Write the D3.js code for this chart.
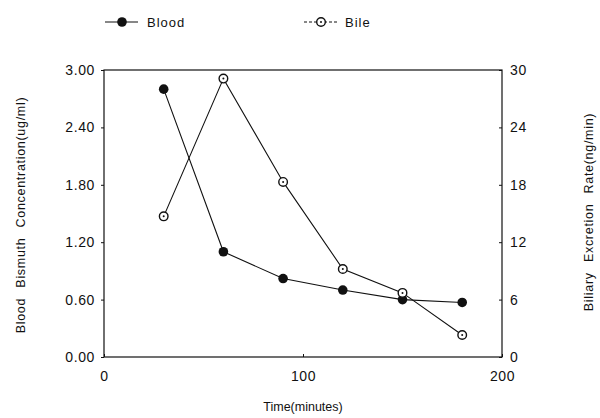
<!DOCTYPE html>
<html>
<head>
<meta charset="utf-8">
<script src="https://cdn.jsdelivr.net/npm/d3@7"></script>
<style>
  body { margin: 0; background: #fff; }
  svg text { font-family: "Liberation Sans", Arial, sans-serif; fill: #111; }
</style>
</head>
<body>
<div id="chart"></div>
<script>
// sampling times (minutes)
const times = [30, 60, 90, 120, 150, 180];
// blood bismuth concentration (ug/ml), left axis
const blood = [2.80, 1.10, 0.82, 0.70, 0.60, 0.57];
// biliary excretion rate (ng/min), right axis
const bile = [14.7, 29.1, 18.3, 9.2, 6.7, 2.3];

const xTicks = [0, 100, 200];
const leftTicks = [0, 0.6, 1.2, 1.8, 2.4, 3.0];
const rightTicks = [0, 6, 12, 18, 24, 30];

let w = 600, h = 418;
let plotL = 104, plotR = 502, plotT = 70, plotB = 357;

let svg = d3.select("#chart").append("svg")
  .attr("width", w)
  .attr("height", h);

let x = d3.scaleLinear().domain([0, 200]).range([plotL, plotR]);
let yL = d3.scaleLinear().domain([0, 3]).range([plotB, plotT]);
let yR = d3.scaleLinear().domain([0, 30]).range([plotB, plotT]);

// frame
svg.append("rect")
  .attr("x", plotL).attr("y", plotT)
  .attr("width", plotR - plotL).attr("height", plotB - plotT)
  .attr("fill", "none").attr("stroke", "#111").attr("stroke-width", 1.2);

const leftAxis = d3.axisLeft(yL).tickValues(leftTicks).tickFormat(d3.format(".2f"))
  .tickSize(3).tickPadding(6);
const rightAxis = d3.axisRight(yR).tickValues(rightTicks).tickFormat(d3.format("d"))
  .tickSize(-3).tickPadding(8);
const xAxis = d3.axisBottom(x).tickValues(xTicks).tickFormat(d3.format("d"))
  .tickSize(-3).tickPadding(14);

function styleAxis(g) {
  g.select(".domain").remove();
  g.selectAll("line").attr("stroke", "#111");
  g.selectAll("text").style("font-size", "14px").style("letter-spacing", "0.6px").attr("fill", "#111");
}

svg.append("g").attr("transform", "translate(" + plotL + ",0)").call(leftAxis).call(styleAxis);
svg.append("g").attr("transform", "translate(" + plotR + ",0)").call(rightAxis).call(styleAxis);
svg.append("g").attr("transform", "translate(0," + plotB + ")").call(xAxis).call(styleAxis);

// axis titles
svg.append("text")
  .attr("transform", "translate(25,215) rotate(-90)")
  .attr("text-anchor", "middle")
  .style("font-size", "12.5px")
  .style("letter-spacing", "0.7px")
  .style("word-spacing", "6px")
  .text("Blood Bismuth Concentration(ug/ml)");

svg.append("text")
  .attr("transform", "translate(593,212) rotate(-90)")
  .attr("text-anchor", "middle")
  .style("font-size", "12.5px")
  .style("letter-spacing", "0.7px")
  .style("word-spacing", "6px")
  .text("Biliary Excretion Rate(ng/min)");

svg.append("text")
  .attr("x", 303).attr("y", 411)
  .attr("text-anchor", "middle")
  .style("font-size", "12.5px")
  .text("Time(minutes)");

// lines
const bloodPts = times.map((t, i) => [x(t), yL(blood[i])]);
const bilePts = times.map((t, i) => [x(t), yR(bile[i])]);
const line = d3.line();

svg.append("path").attr("d", line(bloodPts))
  .attr("fill", "none").attr("stroke", "#111").attr("stroke-width", 1.1);
svg.append("path").attr("d", line(bilePts))
  .attr("fill", "none").attr("stroke", "#111").attr("stroke-width", 1.1);

function filledMarker(g, cx, cy) {
  g.append("circle").attr("cx", cx).attr("cy", cy).attr("r", 4.8).attr("fill", "#111");
}
function openMarker(g, cx, cy) {
  g.append("circle").attr("cx", cx).attr("cy", cy).attr("r", 4.3)
    .attr("fill", "#fff").attr("stroke", "#111").attr("stroke-width", 1.4);
  g.append("circle").attr("cx", cx).attr("cy", cy).attr("r", 1).attr("fill", "#111");
}

bloodPts.forEach(p => filledMarker(svg, p[0], p[1]));
bilePts.forEach(p => openMarker(svg, p[0], p[1]));

// legend
svg.append("line").attr("x1", 105).attr("x2", 138).attr("y1", 22).attr("y2", 22)
  .attr("stroke", "#111").attr("stroke-width", 1.2);
filledMarker(svg, 122, 22);
svg.append("text").attr("x", 147).attr("y", 27)
  .style("font-size", "13px").style("letter-spacing", "1px").text("Blood");

svg.append("line").attr("x1", 304).attr("x2", 338).attr("y1", 22).attr("y2", 22)
  .attr("stroke", "#111").attr("stroke-width", 1).attr("stroke-dasharray", "3,2");
openMarker(svg, 321, 22);
svg.append("text").attr("x", 345).attr("y", 27)
  .style("font-size", "13px").style("letter-spacing", "1px").text("Bile");
</script>
</body>
</html>
